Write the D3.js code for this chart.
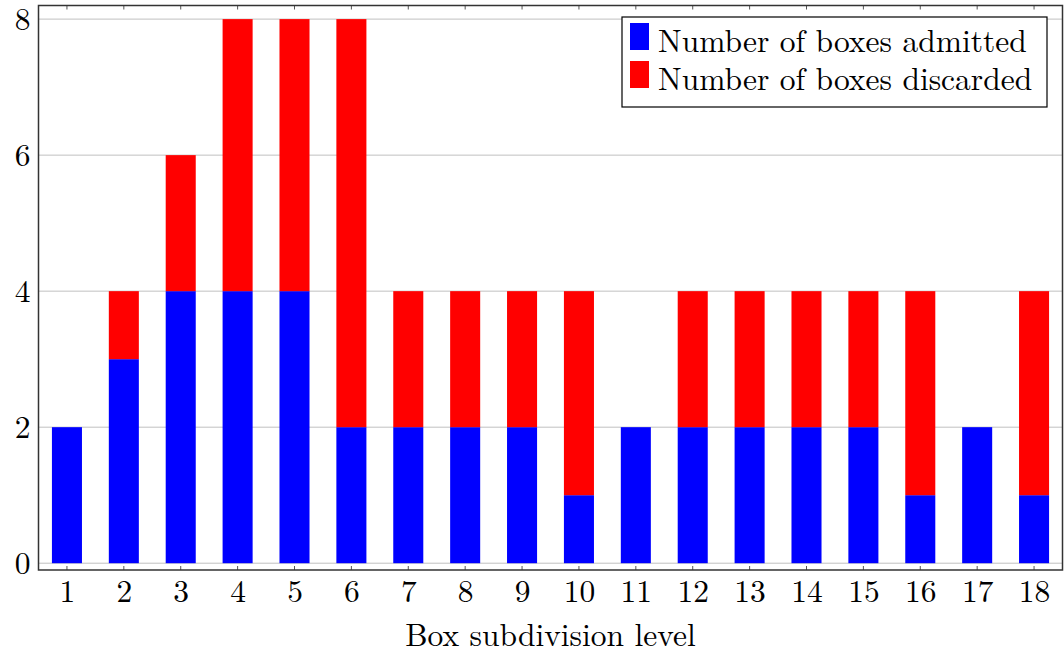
<!DOCTYPE html>
<html>
<head>
<meta charset="utf-8">
<script src="https://cdn.jsdelivr.net/npm/d3@7"></script>
<style>
  body { margin: 0; background: #fff; }
</style>
</head>
<body>
<div class="chart"></div>
<script>
var levels = [1, 2, 3, 4, 5, 6, 7, 8, 9, 10, 11, 12, 13, 14, 15, 16, 17, 18];
var admitted = [2, 3, 4, 4, 4, 2, 2, 2, 2, 1, 2, 2, 2, 2, 2, 1, 2, 1];
var discarded = [0, 1, 2, 4, 4, 6, 2, 2, 2, 3, 0, 2, 2, 2, 2, 3, 0, 3];
var yTicks = [0, 2, 4, 6, 8];
var seriesNames = ["Number of boxes admitted", "Number of boxes discarded"];
var seriesColors = ["#0000ff", "#ff0000"];

var svgWidth = 1064;
var svgHeight = 657;
var fontFam = '"Latin Modern Roman", "Liberation Serif", serif';
var fontSize = 31.5;

var margin = { top: 5.5, right: 1.5, bottom: 87, left: 38.5 };
var width = svgWidth - margin.left - margin.right;
var height = svgHeight - margin.top - margin.bottom;

var svg = d3.select(".chart")
  .append("svg")
  .attr("width", svgWidth)
  .attr("height", svgHeight);

var chartGroup = svg.append("g")
  .attr("transform", `translate(${margin.left}, ${margin.top})`);

// scales
var xScale = d3.scaleLinear()
  .domain([0.5, 18.5])
  .range([0, width]);

var yScale = d3.scaleLinear()
  .domain([-0.1, 8.2])
  .range([height, 0]);

var barWidth = xScale(1.264) - xScale(0.736);

// grid lines
chartGroup.append("g")
  .selectAll("line")
  .data(yTicks)
  .enter()
  .append("line")
  .attr("x1", 0)
  .attr("x2", width)
  .attr("y1", d => yScale(d))
  .attr("y2", d => yScale(d))
  .attr("stroke", "#c0c0c0")
  .attr("stroke-width", 1);

// stacked bars
var rows = levels.map((l, i) => ({ level: l, admitted: admitted[i], discarded: discarded[i] }));
var stack = d3.stack().keys(["admitted", "discarded"])(rows);

chartGroup.selectAll("g.series")
  .data(stack)
  .enter()
  .append("g")
  .attr("class", "series")
  .attr("fill", (d, i) => seriesColors[i])
  .selectAll("rect")
  .data(d => d)
  .enter()
  .append("rect")
  .attr("x", d => xScale(d.data.level) - barWidth / 2)
  .attr("width", barWidth)
  .attr("y", d => yScale(d[1]))
  .attr("height", d => yScale(d[0]) - yScale(d[1]));

// axes
var bottomAxis = d3.axisBottom(xScale).tickValues(levels).tickSize(0).tickPadding(10).tickFormat(d3.format("d"));
var leftAxis = d3.axisLeft(yScale).tickValues(yTicks).tickSize(0).tickPadding(8);

var xAxisG = chartGroup.append("g")
  .attr("transform", `translate(0, ${height})`)
  .call(bottomAxis);
var yAxisG = chartGroup.append("g")
  .call(leftAxis);

[xAxisG, yAxisG].forEach(g => {
  g.select(".domain").remove();
  g.attr("font-family", null).attr("font-size", null);
  g.selectAll("text")
    .style("font-family", fontFam)
    .style("font-size", fontSize + "px")
    .attr("fill", "#000");
});
yAxisG.selectAll("text").attr("dy", "0.33em");

// small inward tick marks on top and bottom
chartGroup.append("g")
  .selectAll("line")
  .data(levels)
  .enter()
  .append("line")
  .attr("x1", d => xScale(d))
  .attr("x2", d => xScale(d))
  .attr("y1", height)
  .attr("y2", height - 4)
  .attr("stroke", "#555");
chartGroup.append("g")
  .selectAll("line")
  .data(levels)
  .enter()
  .append("line")
  .attr("x1", d => xScale(d))
  .attr("x2", d => xScale(d))
  .attr("y1", 0)
  .attr("y2", 4)
  .attr("stroke", "#555");

// frame
chartGroup.append("rect")
  .attr("x", 0)
  .attr("y", 0)
  .attr("width", width)
  .attr("height", height)
  .attr("fill", "none")
  .attr("stroke", "#333")
  .attr("stroke-width", 1.5);

// x label
chartGroup.append("text")
  .attr("x", width / 2)
  .attr("y", height + 76)
  .attr("text-anchor", "middle")
  .style("font-family", fontFam)
  .style("font-size", fontSize + "px")
  .text("Box subdivision level");

// legend
var legend = svg.append("g")
  .attr("transform", "translate(622, 17)");

legend.append("rect")
  .attr("width", 425)
  .attr("height", 90)
  .attr("fill", "#fff")
  .attr("stroke", "#000")
  .attr("stroke-width", 1.2);

var entries = legend.selectAll("g.entry")
  .data(seriesNames)
  .enter()
  .append("g")
  .attr("class", "entry")
  .attr("transform", (d, i) => `translate(0, ${i * 38})`);

entries.append("rect")
  .attr("x", 8)
  .attr("y", 6)
  .attr("width", 19)
  .attr("height", 27)
  .attr("fill", (d, i) => seriesColors[i]);

entries.append("text")
  .attr("x", 36)
  .attr("y", 35)
  .style("font-family", fontFam)
  .style("font-size", fontSize + "px")
  .text(d => d);
</script>
</body>
</html>
